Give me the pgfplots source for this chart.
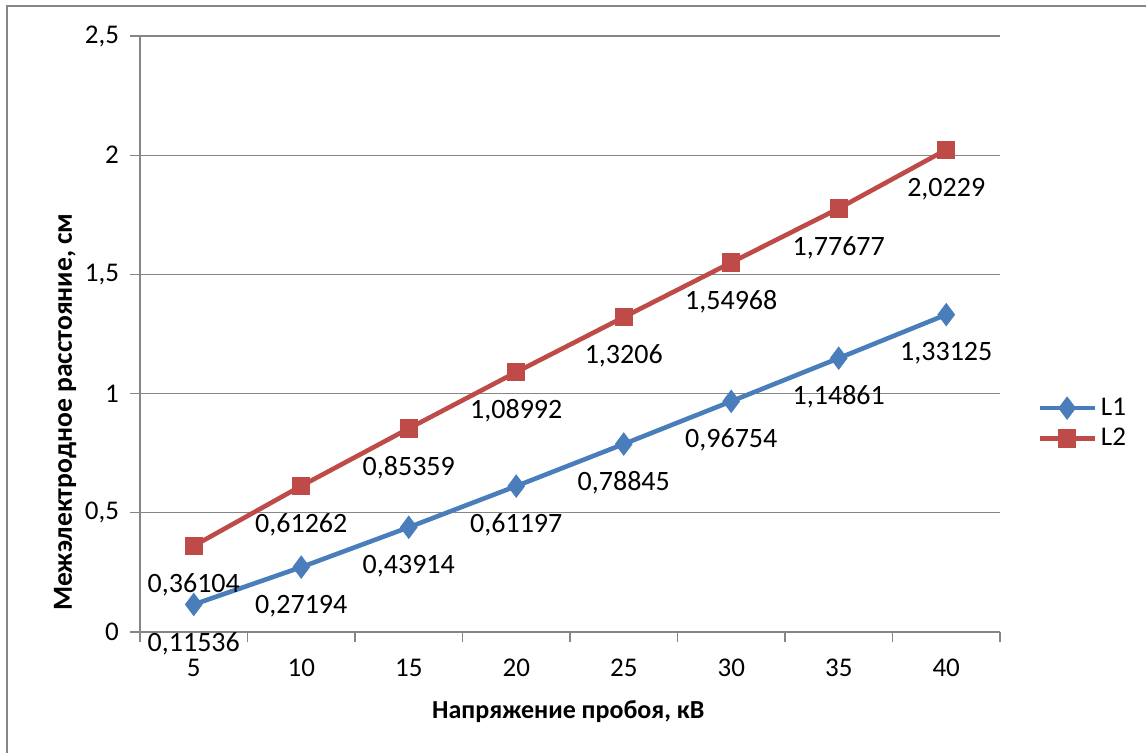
\documentclass[border=0pt]{standalone}
\usepackage{fontspec}
\setmainfont{Carlito}
\usepackage{pgfplots}
\pgfplotsset{compat=1.18}
\definecolor{gridgray}{RGB}{134,134,134}
\definecolor{lone}{RGB}{74,126,187}
\definecolor{ltwo}{RGB}{190,75,72}
\begin{document}
\begin{tikzpicture}
\path[use as bounding box] (0,0) rectangle (573pt,376.5pt);
\draw[gridgray, line width=1.3pt] (3.5pt,0) -- (3.5pt,373.5pt) -- (573pt,373.5pt);
\begin{axis}[
  at={(70pt,60.5pt)}, anchor=south west,
  width=430pt, height=298pt, scale only axis,
  xmin=-0.5, xmax=7.5, ymin=0, ymax=2.5,
  axis x line*=bottom, axis y line*=left,
  axis line style={-, draw=gridgray, line width=0.6pt},
  tick style={draw=gridgray, line width=0.6pt},
  tick align=outside, major tick length=5pt,
  xtick={-0.5,0.5,...,7.5}, xticklabels={},
  extra x ticks={0,1,2,3,4,5,6,7},
  extra x tick labels={5,10,15,20,25,30,35,40},
  extra x tick style={major tick length=0pt, grid=none,
    xticklabel style={yshift=-10pt}},
  ytick={0,0.5,1,1.5,2,2.5},
  yticklabels={0,{0,5},1,{1,5},2,{2,5}},
  yticklabel style={xshift=-2pt},
  ymajorgrids, grid style={draw=gridgray, line width=0.6pt},
  every tick label/.append style={font=\fontsize{13.5}{16}\selectfont, text=black},
  xlabel={\textbf{Напряжение пробоя, кВ}},
  ylabel={\textbf{Межэлектродное расстояние, см}},
  xlabel style={at={(axis description cs:0.498,-0.134)}, anchor=center, font=\fontsize{13}{15}\selectfont},
  ylabel style={at={(axis description cs:-0.087,0.369)}, anchor=center, font=\fontsize{13.8}{16}\selectfont},
  legend style={at={(1.036,0.35)}, anchor=west, draw=none, fill=none,
    font=\fontsize{13.5}{16}\selectfont, row sep=1pt,
    /tikz/every even column/.append style={column sep=0pt}},
  legend image code/.code={
    \draw[#1, mark repeat=2, mark phase=2] plot coordinates {(0pt,0pt) (13.75pt,0pt) (27.5pt,0pt)};},
  nodes near coords, point meta=explicit symbolic,
  every node near coord/.append style={font=\fontsize{14}{16}\selectfont, text=black, anchor=center, yshift=-19.5pt},
  clip=false,
]
\addplot[color=lone, line width=2.3pt, mark=diamond*, mark size=5.5pt, mark options={fill=lone, line width=0.5pt}] coordinates {
 (0,0.11536) [0,11536]
 (1,0.27194) [0,27194]
 (2,0.43914) [0,43914]
 (3,0.61197) [0,61197]
 (4,0.78845) [0,78845]
 (5,0.96754) [0,96754]
 (6,1.14861) [1,14861]
 (7,1.33125) [1,33125]
};
\addlegendentry{L1}
\addplot[color=ltwo, line width=2.3pt, mark=square*, mark size=4.3pt, mark options={fill=ltwo, line width=0.5pt}] coordinates {
 (0,0.36104) [0,36104]
 (1,0.61262) [0,61262]
 (2,0.85359) [0,85359]
 (3,1.08992) [1,08992]
 (4,1.3206) [1,3206]
 (5,1.54968) [1,54968]
 (6,1.77677) [1,77677]
 (7,2.0229) [2,0229]
};
\addlegendentry{L2}
\end{axis}
\end{tikzpicture}
\end{document}
